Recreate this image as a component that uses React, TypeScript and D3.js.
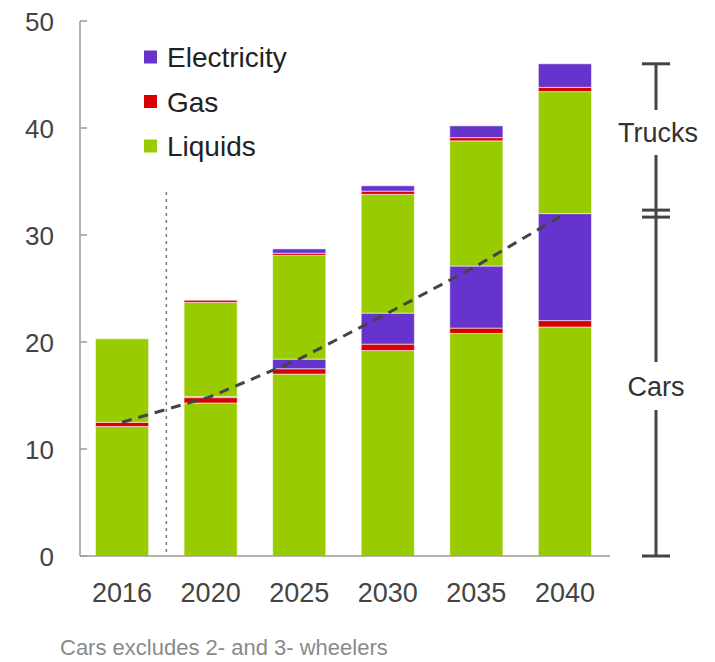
import React from "react";
import * as d3 from "d3";

const years = ["2016", "2020", "2025", "2030", "2035", "2040"];
const carsLiquids = [12.1, 14.3, 17.0, 19.2, 20.8, 21.4];
const carsGas = [0.4, 0.5, 0.5, 0.6, 0.5, 0.6];
const carsElectricity = [0, 0.1, 0.9, 2.9, 5.8, 10.0];
const trucksLiquids = [7.8, 8.8, 9.7, 11.1, 11.7, 11.4];
const trucksGas = [0, 0.2, 0.2, 0.3, 0.3, 0.4];
const trucksElectricity = [0, 0, 0.4, 0.5, 1.1, 2.2];
const yTicks = [0, 10, 20, 30, 40, 50];
const legendItems = ["Electricity", "Gas", "Liquids"];
const footnote = "Cars excludes 2- and 3- wheelers";

const COLORS: Record<string, string> = {
  Liquids: "#99cc00",
  Gas: "#d80000",
  Electricity: "#6633cc",
};

const seriesKeys = ["carsLiquids", "carsGas", "carsElectricity", "trucksLiquids", "trucksGas", "trucksElectricity"];
const seriesType: Record<string, string> = {
  carsLiquids: "Liquids",
  carsGas: "Gas",
  carsElectricity: "Electricity",
  trucksLiquids: "Liquids",
  trucksGas: "Gas",
  trucksElectricity: "Electricity",
};

const FONT = "'Liberation Sans', Arial, sans-serif";

export default function App() {
  const W = 715;
  const H = 662;
  const rows = years.map((y, i) => ({
    year: y,
    carsLiquids: carsLiquids[i],
    carsGas: carsGas[i],
    carsElectricity: carsElectricity[i],
    trucksLiquids: trucksLiquids[i],
    trucksGas: trucksGas[i],
    trucksElectricity: trucksElectricity[i],
  }));
  const stack = d3.stack<any>().keys(seriesKeys);
  const stacked = stack(rows);

  const x = d3.scaleBand<string>().domain(years).range([80, 607]).paddingInner(0.4).paddingOuter(0.175);
  const y = d3.scaleLinear().domain([0, 50]).range([556, 21]);

  const carsTotals = years.map((yr, i) => ({
    year: yr,
    v: carsLiquids[i] + carsGas[i] + carsElectricity[i],
  }));
  const line = d3
    .line<{ year: string; v: number }>()
    .x((d) => (x(d.year) as number) + x.bandwidth() / 2)
    .y((d) => y(d.v));

  const total2040 = stacked[stacked.length - 1][years.length - 1][1];
  const cars2040 = carsTotals[carsTotals.length - 1].v;
  const bx = 656;
  const capW = 28;
  const yTop = y(total2040);
  const yBreak = y(cars2040);
  const yZero = y(0);
  const dividerX = ((x("2016") as number) + x.bandwidth() + (x("2020") as number)) / 2;

  return (
    <svg width={W} height={H} style={{ position: "absolute", left: 0, top: 0, background: "#fff" }} fontFamily={FONT}>
      {/* y axis */}
      <line x1={80} x2={80} y1={y(50)} y2={y(0)} stroke="#9a9a9a" strokeWidth={1.5} />
      {yTicks.map((t) => (
        <g key={t}>
          <line x1={80} x2={87} y1={y(t)} y2={y(t)} stroke="#9a9a9a" strokeWidth={1.5} />
          <text x={54} y={y(t) + 1} dy="0.36em" textAnchor="end" fontSize={26} fill="#444">
            {t}
          </text>
        </g>
      ))}
      {/* bars */}
      {stacked.map((s) => (
        <g key={s.key} fill={COLORS[seriesType[s.key]]}>
          {s.map((d, i) =>
            d[1] - d[0] > 0 ? (
              <rect
                key={i}
                x={x(years[i]) as number}
                width={x.bandwidth()}
                y={y(d[1])}
                height={y(d[0]) - y(d[1])}
                stroke="rgba(255,255,255,0.55)"
                strokeWidth={1}
              />
            ) : null
          )}
        </g>
      ))}
      {/* baseline */}
      <line x1={80} x2={610} y1={y(0)} y2={y(0)} stroke="#9a9a9a" strokeWidth={1.5} />
      {/* divider */}
      <line x1={dividerX} x2={dividerX} y1={192} y2={y(0)} stroke="#777" strokeWidth={1.5} strokeDasharray="3 4" />
      {/* cars trend */}
      <path d={line(carsTotals) as string} fill="none" stroke="#444" strokeWidth={3} strokeDasharray="10 7" />
      {/* x labels */}
      {years.map((yr) => (
        <text
          key={yr}
          x={(x(yr) as number) + x.bandwidth() / 2}
          y={592}
          dy="0.36em"
          textAnchor="middle"
          fontSize={27}
          fill="#444"
        >
          {yr}
        </text>
      ))}
      {/* legend */}
      {legendItems.map((k, i) => (
        <g key={k} transform={`translate(144, ${57 + i * 44.5})`}>
          <rect x={0} y={-6.5} width={13} height={13} fill={COLORS[k]} />
          <text x={23} y={0} dy="0.36em" fontSize={28} fill="#222">
            {k}
          </text>
        </g>
      ))}
      {/* right bracket */}
      <g stroke="#444" strokeWidth={3} fill="none">
        <line x1={bx - capW / 2} x2={bx + capW / 2} y1={yTop} y2={yTop} />
        <line x1={bx} x2={bx} y1={yTop} y2={110} />
        <line x1={bx} x2={bx} y1={155} y2={362} />
        <line x1={bx - capW / 2} x2={bx + capW / 2} y1={yBreak - 3.5} y2={yBreak - 3.5} />
        <line x1={bx - capW / 2} x2={bx + capW / 2} y1={yBreak + 3.5} y2={yBreak + 3.5} />
        <line x1={bx} x2={bx} y1={410} y2={yZero} />
        <line x1={bx - capW / 2} x2={bx + capW / 2} y1={yZero} y2={yZero} />
      </g>
      <text x={bx + 2} y={132} dy="0.36em" textAnchor="middle" fontSize={27} fill="#333">
        Trucks
      </text>
      <text x={bx} y={386} dy="0.36em" textAnchor="middle" fontSize={27} fill="#333">
        Cars
      </text>
      {/* footnote */}
      <text x={60} y={647} dy="0.36em" fontSize={22} fill="#8a8a8a">
        {footnote}
      </text>
    </svg>
  );
}
